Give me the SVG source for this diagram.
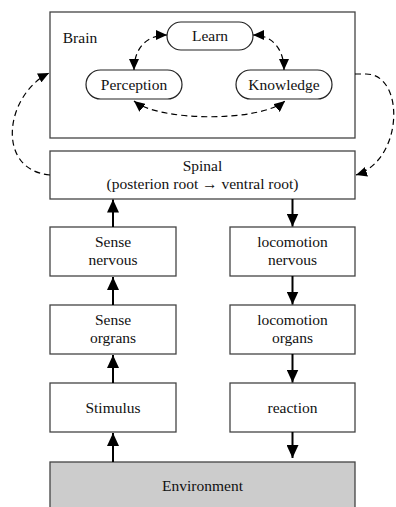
<svg xmlns="http://www.w3.org/2000/svg" width="396" height="507" viewBox="0 0 396 507">
<style>
.box{fill:#fff;stroke:#444;stroke-width:1.3}
.env{fill:#cccccc;stroke:#444;stroke-width:1.3}
.pill{fill:#fff;stroke:#222;stroke-width:1.2}
text{font-family:"Liberation Serif","Times New Roman",serif;font-size:15.5px;fill:#111;text-anchor:middle}
.solid{fill:none;stroke:#000;stroke-width:2;marker-end:url(#ah)}
.dash{fill:none;stroke:#000;stroke-width:1.2;stroke-dasharray:6 4}
.dd{marker-start:url(#dh);marker-end:url(#dh)}
.de{marker-end:url(#dh)}
</style>
<defs>
<marker id="ah" markerUnits="userSpaceOnUse" markerWidth="13" markerHeight="12" refX="13" refY="6" orient="auto">
<path d="M0,0 L13,6 L0,12 z" fill="#000"/>
</marker>
<marker id="dh" markerUnits="userSpaceOnUse" markerWidth="11" markerHeight="10" refX="11" refY="5" orient="auto-start-reverse">
<path d="M0,0 L11,5 L0,10 z" fill="#000"/>
</marker>
</defs>
<g id="brain">
<rect class="box" x="50" y="12" width="305" height="126"/>
<text x="80" y="43">Brain</text>
</g>
<g id="learn">
<rect class="pill" x="167" y="22" width="86" height="28" rx="14"/>
<text x="210" y="41">Learn</text>
</g>
<g id="perception">
<rect class="pill" x="86" y="70" width="96" height="29" rx="14.5"/>
<text x="134" y="90">Perception</text>
</g>
<g id="knowledge">
<rect class="pill" x="236" y="70" width="96" height="29" rx="14.5"/>
<text x="284" y="90">Knowledge</text>
</g>
<g id="spinal">
<rect class="box" x="50" y="151" width="305" height="48"/>
<text x="202.5" y="171">Spinal</text>
<text x="202.5" y="189">(posterion root → ventral root)</text>
</g>
<g id="sense-nervous">
<rect class="box" x="50" y="227" width="126" height="49"/>
<text x="113" y="247">Sense</text>
<text x="113" y="265">nervous</text>
</g>
<g id="sense-organs">
<rect class="box" x="50" y="305" width="126" height="49"/>
<text x="113" y="325">Sense</text>
<text x="113" y="343">orgrans</text>
</g>
<g id="stimulus">
<rect class="box" x="50" y="383" width="126" height="49"/>
<text x="113" y="413">Stimulus</text>
</g>
<g id="locomotion-nervous">
<rect class="box" x="230" y="227" width="125" height="49"/>
<text x="292.5" y="247">locomotion</text>
<text x="292.5" y="265">nervous</text>
</g>
<g id="locomotion-organs">
<rect class="box" x="230" y="305" width="125" height="49"/>
<text x="292.5" y="325">locomotion</text>
<text x="292.5" y="343">organs</text>
</g>
<g id="reaction">
<rect class="box" x="230" y="383" width="125" height="49"/>
<text x="292.5" y="413">reaction</text>
</g>
<g id="environment">
<rect class="env" x="50" y="462" width="305" height="60"/>
<text x="202.5" y="491">Environment</text>
</g>
<g id="connectors">
<path class="solid" d="M113,227 L113,199.5"/>
<path class="solid" d="M113,305 L113,277"/>
<path class="solid" d="M113,383 L113,355"/>
<path class="solid" d="M113,462 L113,433"/>
<path class="solid" d="M292.5,199 L292.5,226.5"/>
<path class="solid" d="M292.5,276 L292.5,304.5"/>
<path class="solid" d="M292.5,354 L292.5,382.5"/>
<path class="solid" d="M292.5,432 L292.5,458"/>
<path class="dash dd" d="M134,70 C134,50 145,35 167,35"/>
<path class="dash dd" d="M284,70 C284,50 273,35 253,35"/>
<path class="dash dd" d="M134,101 C160,122 260,122 285,101"/>
<path class="dash de" d="M50,175 C-5,170 5,95 49,73"/>
<path class="dash de" d="M355,74 L366,74 C405,74 404,160 356,175"/>
</g>
</svg>
